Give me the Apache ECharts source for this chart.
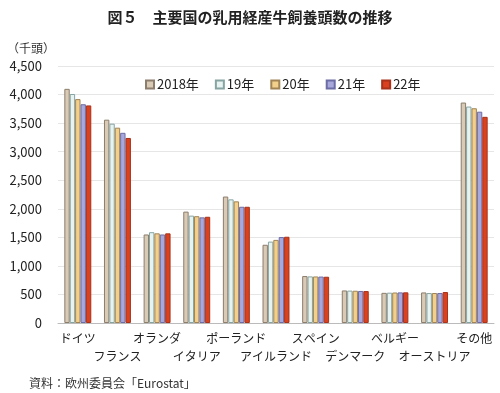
<!DOCTYPE html>
<html><head><meta charset="utf-8">
<script src="https://cdn.jsdelivr.net/npm/echarts@6/dist/echarts.min.js"></script>
<style>html,body{margin:0;padding:0;background:#fff;}#c{width:500px;height:393px;}</style>
</head><body><div id="c"></div>
<script>
const categories = ['ドイツ','フランス','オランダ','イタリア','ポーランド','アイルランド','スペイン','デンマーク','ベルギー','オーストリア','その他'];
const seriesNames = ['2018年','19年','20年','21年','22年'];
const v2018 = [4100, 3560, 1550, 1950, 2214, 1370, 822, 570, 528, 535, 3860];
const v2019 = [4010, 3490, 1590, 1880, 2165, 1425, 816, 567, 531, 524, 3790];
const v2020 = [3920, 3420, 1570, 1870, 2130, 1455, 815, 565, 534, 525, 3760];
const v2021 = [3830, 3330, 1550, 1850, 2035, 1505, 813, 561, 536, 525, 3700];
const v2022 = [3810, 3240, 1570, 1860, 2035, 1510, 810, 559, 537, 542, 3610];
const yTicks = [0, 500, 1000, 1500, 2000, 2500, 3000, 3500, 4000, 4500];

const fills = ['#d9cab6','#e6f3f0','#f2cf8b','#a9a8dc','#d9411f'];
const borders = ['#8c7d6c','#86a4a2','#a08455','#6c6ca6','#a8321a'];
const allData = [v2018, v2019, v2020, v2021, v2022];
const FONT = '"Noto Sans CJK JP", "Noto Sans", sans-serif';

const chart = echarts.init(document.getElementById('c'));
chart.setOption({
  animation: false,
  textStyle: { fontFamily: FONT },
  title: [
    { text: '図５　主要国の乳用経産牛飼養頭数の推移', left: 'center', top: 5,
      textStyle: { fontSize: 15, fontWeight: 'bold', color: '#222', fontFamily: FONT } },
    { text: '（千頭）', left: 2, top: 37, textStyle: { fontSize: 12, fontWeight: 'normal', color: '#333', fontFamily: FONT } },
    { text: '資料：欧州委員会「Eurostat」', left: 24, top: 372, textStyle: { fontSize: 12, fontWeight: 'normal', color: '#333', fontFamily: FONT } }
  ],
  legend: {
    top: 73, left: 140, itemWidth: 8, itemHeight: 8, itemGap: 16,
    icon: 'rect',
    textStyle: { fontSize: 13, color: '#222', fontFamily: FONT, padding: [0,0,0,-2] },
    data: seriesNames
  },
  grid: { left: 58, right: 6, top: 66, bottom: 70 },
  xAxis: {
    type: 'category', data: categories,
    axisTick: { show: false },
    axisLine: { lineStyle: { color: '#bbb' } },
    axisLabel: { interval: 0, fontSize: 12, color: '#222', lineHeight: 18, margin: 6,
      formatter: (v, i) => (i % 2 === 1 ? '\n' + v : v) }
  },
  yAxis: {
    type: 'value', min: 0, max: 4500, interval: 500,
    axisLine: { show: false }, axisTick: { show: false },
    splitLine: { lineStyle: { color: '#e6e6e6' } },
    axisLabel: { fontSize: 13, color: '#222', margin: 16,
      formatter: v => yTicks.includes(v) ? v.toLocaleString('en-US') : '' }
  },
  series: seriesNames.map((n, k) => ({
    name: n, type: 'bar', data: allData[k],
    barGap: '0%', barCategoryGap: '32%',
    itemStyle: { color: fills[k], borderColor: borders[k], borderWidth: 1 }
  }))
});
</script></body></html>
